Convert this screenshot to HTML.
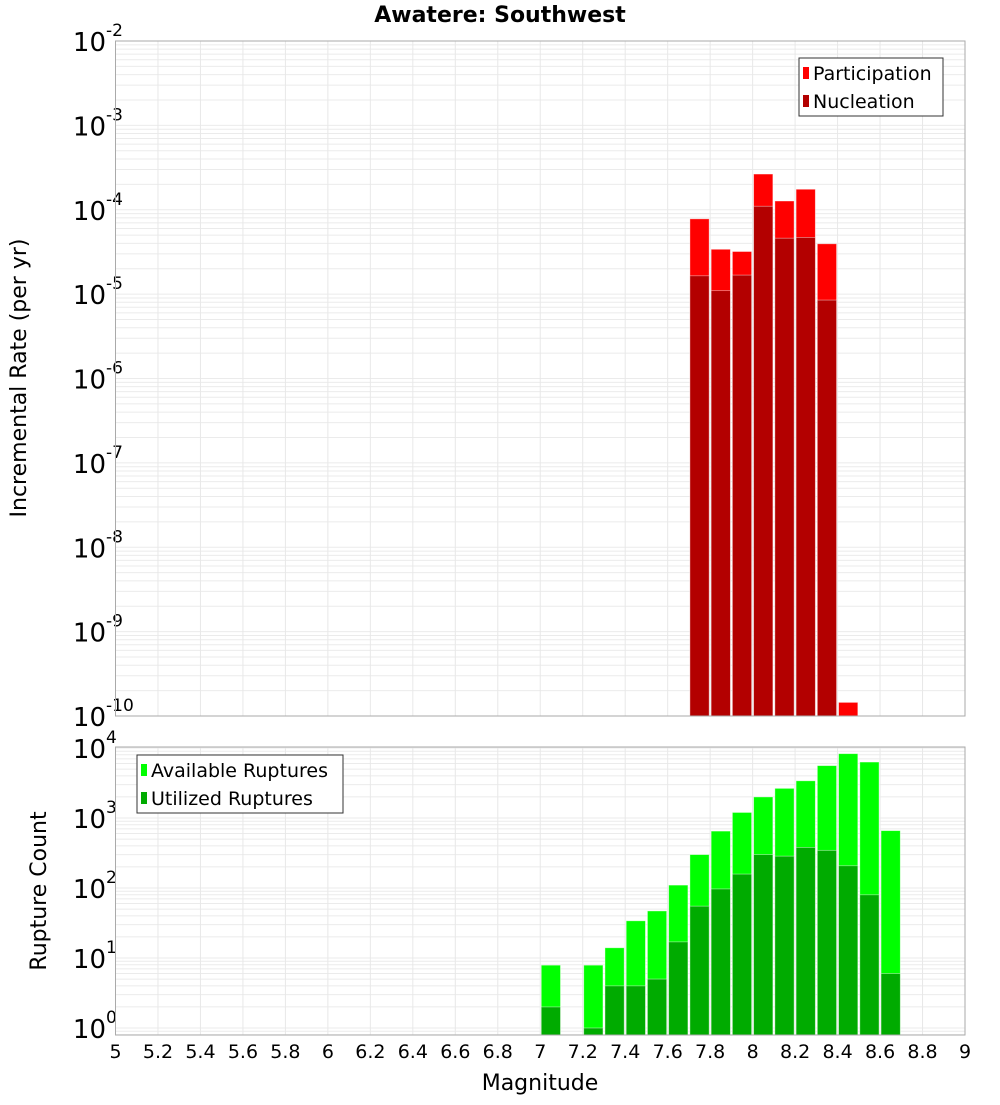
<!DOCTYPE html>
<html><head><meta charset="utf-8"><style>
body{margin:0;background:#fff;}
svg text{font-family:"DejaVu Sans","Liberation Sans",sans-serif;fill:#000;}
</style></head><body>
<svg id="chart" width="1000" height="1100" xmlns="http://www.w3.org/2000/svg">
<text x="500" y="22" text-anchor="middle" font-size="22" font-weight="bold">Awatere: Southwest</text>
<g id="top"></g><g id="bot"></g>
<text transform="translate(26,378) rotate(-90)" text-anchor="middle" font-size="22">Incremental Rate (per yr)</text>
<text transform="translate(46,891) rotate(-90)" text-anchor="middle" font-size="22">Rupture Count</text>
<text x="540" y="1090" text-anchor="middle" font-size="22">Magnitude</text>
</svg>
<script>
const mags = [7.05,7.15,7.25,7.35,7.45,7.55,7.65,7.75,7.85,7.95,8.05,8.15,8.25,8.35,8.45,8.55,8.65];
const participation = [0,0,0,0,0,0,0,7.8e-5,3.4e-5,3.2e-5,2.65e-4,1.27e-4,1.75e-4,3.95e-5,1.45e-10,0,0];
const nucleation = [0,0,0,0,0,0,0,1.65e-5,1.1e-5,1.68e-5,1.1e-4,4.6e-5,4.7e-5,8.5e-6,0,0,0];
const available = [7.9,0,7.9,14,34,47,110,300,650,1200,2000,2650,3400,5600,8300,6300,660];
const utilized = [2.0,0,1.0,4.0,4.0,5.0,17,55,97,158,300,285,380,345,208,80,6.0];
const xTicks = ["5","5.2","5.4","5.6","5.8","6","6.2","6.4","6.6","6.8","7","7.2","7.4","7.6","7.8","8","8.2","8.4","8.6","8.8","9"];
const topDecades = [-2,-3,-4,-5,-6,-7,-8,-9,-10];
const botDecades = [4,3,2,1,0];

const NS="http://www.w3.org/2000/svg";
const L=115.5,R=965;
const xS=m=>L+(m-5)/4*(R-L);
const topT=41,topB=716;
const yTop=v=>topT+(-2-Math.log10(v))*(topB-topT)/8;
const botT=747,botB=1035;
const yBot=v=>748+(4-Math.log10(v))*70;
function mk(tag,attrs,parent){const e=document.createElementNS(NS,tag);for(const k in attrs)e.setAttribute(k,attrs[k]);parent.appendChild(e);return e;}

function panel(g,T,B,yS,decs,minLog,maxLog,name){
  for(let d=minLog;d<=maxLog;d++){for(let k=1;k<10;k++){const y=yS(k*Math.pow(10,d));if(y<T-0.5||y>B+0.5)continue;
    const ln=mk('line',{x1:L,x2:R,y1:y,y2:y,stroke:'#ebebeb','stroke-width':1},g);
    
    }}
  xTicks.forEach(t=>{const x=xS(+t);const ln=mk('line',{x1:x,x2:x,y1:T,y2:B,stroke:'#e8e8e8','stroke-width':1},g);
    
    });
  decs.forEach(d=>{const y=yS(Math.pow(10,d));const t=mk('text',{x:106,y:y+10,'text-anchor':'end','font-size':26},g);
    
    
    t.textContent='10';
    const s=mk('text',{x:106,y:y-5,'font-size':17},g);s.textContent=String(d);
    
    });
}
const gt=document.getElementById('top'),gb=document.getElementById('bot');
panel(gt,topT,topB,yTop,topDecades,-10,-2,'rate');
panel(gb,botT,botB,yBot,botDecades,-1,4,'count');
function bars(g,vals,yS,B,color,name){
  vals.forEach((v,i)=>{if(!(v>0))return;const x0=xS(mags[i]-0.05)+1,x1=xS(mags[i]+0.05)-1;const y=Math.max(yS(v),0);
    const r=mk('rect',{x:x0,y:y,width:x1-x0,height:B-y,fill:color,stroke:'#fff','stroke-opacity':0.5,'stroke-width':0.8},g);
    
    });
}
bars(gt,participation,yTop,topB,'#ff0000','participation');
bars(gt,nucleation,yTop,topB,'#b30000','nucleation');
bars(gb,available,yBot,botB,'#00ff00','available');
bars(gb,utilized,yBot,botB,'#00ab00','utilized');
[[topT,topB,'rate-plot-frame'],[botT,botB,'count-plot-frame']].forEach(([T,B,n])=>{const r=mk('rect',{x:L,y:T,width:R-L,height:B-T,fill:'none',stroke:'#aaa','stroke-width':1},gb);
  
  });
xTicks.forEach(t=>{const e=mk('text',{x:xS(+t),y:1058,'text-anchor':'middle','font-size':19},gb);e.textContent=t;
  
  });
function legend(g,x,y,w,items,name){
  const b=mk('rect',{x:x,y:y,width:w,height:58,fill:'#fff',stroke:'#333','stroke-width':1},g);
  
  
  items.forEach((it,i)=>{const yy=y+15+i*28;
    const s=mk('rect',{x:x+4,y:yy-6,width:6,height:12,fill:it[1]},g);
    
    
    const t=mk('text',{x:x+14,y:yy+7,'font-size':19},g);t.textContent=it[0];
    
    });
}
legend(gt,799,58,144,[['Participation','#ff0000'],['Nucleation','#b30000']],'rate-legend');
legend(gb,137,755,206,[['Available Ruptures','#00ff00'],['Utilized Ruptures','#00ab00']],'count-legend');
</script>
</body></html>
